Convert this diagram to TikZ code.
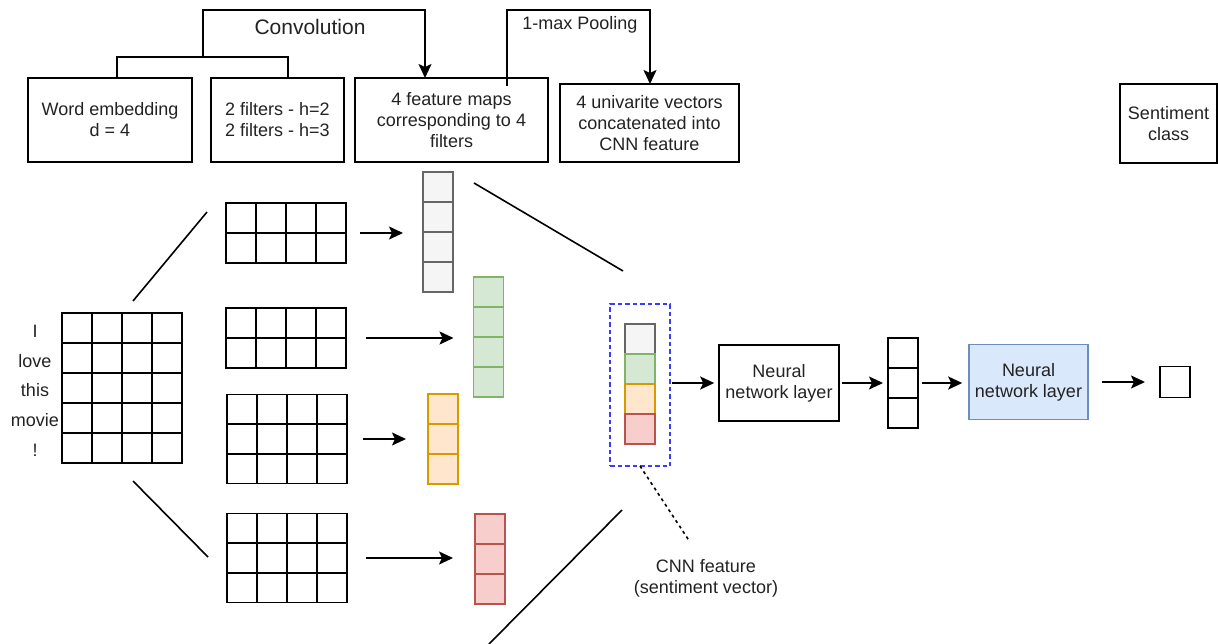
\documentclass[tikz,border=0pt]{standalone}
\usepackage{fontspec}
\setmainfont{Liberation Sans}
\usetikzlibrary{arrows.meta,calc}

\definecolor{grayfill}{HTML}{F5F5F5}
\definecolor{graydraw}{HTML}{666666}
\definecolor{greenfill}{HTML}{D5E8D4}
\definecolor{greendraw}{HTML}{82B366}
\definecolor{orangefill}{HTML}{FFE6CC}
\definecolor{orangedraw}{HTML}{D79B00}
\definecolor{redfill}{HTML}{F8CECC}
\definecolor{reddraw}{HTML}{B85450}
\definecolor{bluefill}{HTML}{DAE8FC}
\definecolor{bluedraw}{HTML}{6C8EBF}
\definecolor{dashblue}{HTML}{3B3BFF}
\definecolor{ink}{HTML}{222222}

\begin{document}
\begin{tikzpicture}[x=1pt,y=-1pt,
  txt/.style={font=\fontsize{18}{21}\selectfont, align=center, inner sep=0pt, text=ink},
  bigtxt/.style={font=\fontsize{21}{25}\selectfont, align=center, inner sep=0pt, text=ink},
  box/.style={draw, line width=1.6pt, txt},
  frame/.style={draw, line width=1.6pt, inner sep=0pt, outer sep=0pt},
  gl/.style={line width=1.7pt},
  cellv/.style={draw, line width=1.6pt, inner sep=0pt, outer sep=0pt, minimum width=30pt, minimum height=30pt},
  arr/.style={-{Stealth[length=14pt,width=13pt,inset=3pt]}, line width=1.8pt},
  plain/.style={line width=1.6pt},
  dotline/.style={line width=1.6pt, dash pattern=on 3pt off 3.5pt},
]
\useasboundingbox (0,0) rectangle (1218,643);

% ---------- description boxes along the top ----------
\node[box, minimum width=164pt, minimum height=84pt] (emb) at (110,120) {Word embedding\\d = 4};
\node[box, minimum width=133pt, minimum height=84pt] (filt) at (277.5,120) {2 filters - h=2\\2 filters - h=3};
\node[box, minimum width=193pt, minimum height=84pt] (fm) at (451.5,120) {4 feature maps\\corresponding to 4\\filters};
\node[box, minimum width=179pt, minimum height=78pt] (uv) at (649.5,123) {4 univarite vectors\\concatenated into\\CNN feature};
\node[box, minimum width=97pt, minimum height=79pt] (sent) at (1168.5,123.5) {Sentiment\\class};

% convolution bracket
\coordinate (cb1) at (117,78);
\coordinate (cb2) at (288,78);
\coordinate (cmid) at (203,57);
\coordinate (fmin) at (425,78);
\draw[plain] (cb1) |- (cmid) -| (cb2);
\draw[arr] (cmid) -- (203,10) -| (fmin);
\node[bigtxt] (convlbl) at (310,27) {Convolution};

% pooling bracket
\coordinate (pout) at (507,86);
\coordinate (uvin) at (650,84);
\draw[arr] (pout) |- (650,10) -- (uvin);
\node[txt] (poollbl) at (580,25) {1-max Pooling};

% ---------- sentence matrix ----------
\node[frame, minimum width=120pt, minimum height=150pt] (sm) at (122,388) {};
\foreach \i in {1,2,3}
  \draw[gl] ($(sm.north west)!\i/4!(sm.north east)$) -- ($(sm.south west)!\i/4!(sm.south east)$);
\foreach \j in {1,2,3,4}
  \draw[gl] ($(sm.north west)!\j/5!(sm.south west)$) -- ($(sm.north east)!\j/5!(sm.south east)$);
\node[txt] (w1) at (35,331) {I};
\node[txt] (w2) at (35,361) {love};
\node[txt] (w3) at (35,390) {this};
\node[txt] (w4) at (35,420) {movie};
\node[txt] (w5) at (35,450) {!};

% ---------- filter regions ----------
\node[frame, minimum width=120pt, minimum height=60pt] (m1) at (286,233) {};
\node[frame, minimum width=120pt, minimum height=60pt] (m2) at (286,338) {};
\node[frame, minimum width=120pt, minimum height=89pt] (m3) at (287,439) {};
\node[frame, minimum width=120pt, minimum height=89pt] (m4) at (287,558) {};
\foreach \m in {m1,m2,m3,m4}
  \foreach \i in {1,2,3}
    \draw[gl] ($(\m.north west)!\i/4!(\m.north east)$) -- ($(\m.south west)!\i/4!(\m.south east)$);
\foreach \m in {m1,m2}
  \draw[gl] ($(\m.north west)!0.5!(\m.south west)$) -- ($(\m.north east)!0.5!(\m.south east)$);
\foreach \m in {m3,m4}
  \foreach \j in {1,2}
    \draw[gl] ($(\m.north west)!\j/3!(\m.south west)$) -- ($(\m.north east)!\j/3!(\m.south east)$);

% expansion lines from the sentence matrix
\coordinate (e1a) at (133,301);
\coordinate (e1b) at (207,212);
\coordinate (e2a) at (133,481);
\coordinate (e2b) at (208,557);
\draw[plain] (e1a) -- (e1b);
\draw[plain] (e2a) -- (e2b);

% ---------- feature maps ----------
\node[frame, draw=graydraw, fill=grayfill, minimum width=30pt, minimum height=120pt] (gv) at (438,232) {};
\node[frame, draw=greendraw, fill=greenfill, minimum width=30pt, minimum height=120pt] (nv) at (488.5,337) {};
\node[frame, draw=orangedraw, fill=orangefill, minimum width=30pt, minimum height=90pt] (ov) at (443,439) {};
\node[frame, draw=reddraw, fill=redfill, minimum width=30pt, minimum height=90pt] (rv) at (490,559) {};
\foreach \v/\c in {gv/graydraw,nv/greendraw}
  \foreach \j in {1,2,3}
    \draw[gl, draw=\c] ($(\v.north west)!\j/4!(\v.south west)$) -- ($(\v.north east)!\j/4!(\v.south east)$);
\foreach \v/\c in {ov/orangedraw,rv/reddraw}
  \foreach \j in {1,2}
    \draw[gl, draw=\c] ($(\v.north west)!\j/3!(\v.south west)$) -- ($(\v.north east)!\j/3!(\v.south east)$);

% filter -> feature map arrows
\draw[arr, shorten <=14pt, shorten >=20pt] (m1.east) -- (m1.east -| gv.west);
\draw[arr, shorten <=20pt, shorten >=20pt] (m2.east) -- (m2.east -| nv.west);
\draw[arr, shorten <=16pt, shorten >=22pt] (m3.east) -- (m3.east -| ov.west);
\draw[arr, shorten <=19pt, shorten >=22pt] (m4.east) -- (m4.east -| rv.west);

% pooling lines
\coordinate (f1a) at (474,183);
\coordinate (f1b) at (623,271);
\coordinate (f2a) at (622,510);
\coordinate (f2b) at (489,644);
\draw[plain] (f1a) -- (f1b);
\draw[plain] (f2a) -- (f2b);

% ---------- CNN feature ----------
\node[draw=dashblue, line width=1.6pt, dash pattern=on 4.5pt off 3pt, inner sep=0pt, outer sep=0pt,
      minimum width=60pt, minimum height=162pt] (cnnbox) at (640,385) {};
\node[cellv, draw=graydraw, fill=grayfill] (c1) at (640,339) {};
\node[cellv, draw=greendraw, fill=greenfill] (c2) at (640,369) {};
\node[cellv, draw=orangedraw, fill=orangefill] (c3) at (640,399) {};
\node[cellv, draw=reddraw, fill=redfill] (c4) at (640,429) {};

\coordinate (dotend) at (690,542);
\draw[dotline] (cnnbox.south) -- (dotend);
\node[txt] (cnnlbl) at (706,578) {CNN feature\\(sentiment vector)};

% ---------- classifier ----------
\node[box, minimum width=120pt, minimum height=76pt] (nn1) at (779,383) {Neural\\network layer};
\node[frame, minimum width=30pt, minimum height=90pt] (v3) at (903,383) {};
\foreach \j in {1,2}
  \draw[gl] ($(v3.north west)!\j/3!(v3.south west)$) -- ($(v3.north east)!\j/3!(v3.south east)$);
\node[box, draw=bluedraw, fill=bluefill, minimum width=119pt, minimum height=75pt] (nn2) at (1028.5,382) {Neural\\network layer};
\node[frame, minimum width=30pt, minimum height=31pt] (out) at (1175,382) {};

\draw[arr, shorten <=2pt, shorten >=4pt] (cnnbox.east |- nn1.west) -- (nn1.west);
\draw[arr, shorten <=2pt, shorten >=5pt] (nn1.east) -- (nn1.east -| v3.west);
\draw[arr, shorten <=4pt, shorten >=6pt] (nn1.east -| v3.east) -- (nn1.east -| nn2.west);
\draw[arr, shorten <=13pt, shorten >=15pt] (nn2.east) -- (nn2.east -| out.west);
\end{tikzpicture}
\end{document}
